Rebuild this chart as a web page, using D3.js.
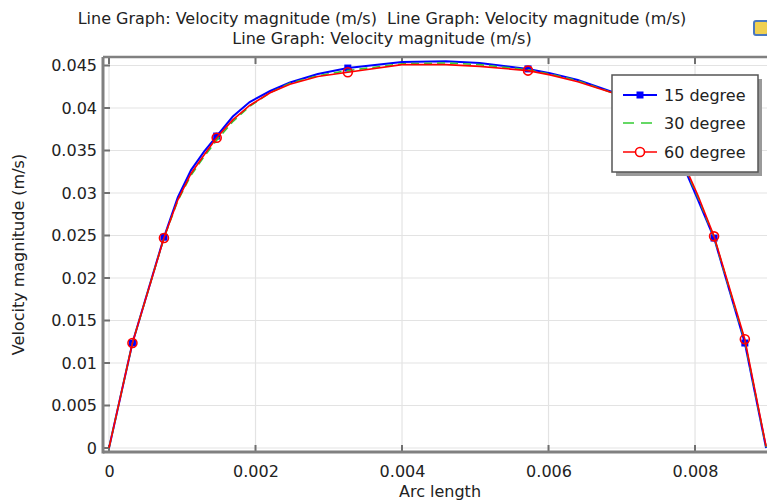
<!DOCTYPE html>
<html>
<head>
<meta charset="utf-8">
<script src="https://cdn.jsdelivr.net/npm/d3@7"></script>
<style>
  body { margin: 0; background: #fff; }
  svg { display: block; font-family: "DejaVu Sans", sans-serif; }
</style>
</head>
<body>
<svg id="chart" width="767" height="501"></svg>
<script>
// data
const arcLength = [0, 0.00032, 0.00075, 0.00094, 0.00112, 0.0013, 0.00147, 0.00169, 0.00192, 0.0022,
  0.00247, 0.00285, 0.00326, 0.004, 0.0046, 0.00506, 0.00572, 0.00602, 0.0064, 0.00687,
  0.0073, 0.0076, 0.00788, 0.00804, 0.00826, 0.00868, 0.00897];
const vel15 = [0, 0.01235, 0.0248, 0.0295, 0.0327, 0.0349, 0.0367, 0.039, 0.0407, 0.042,
  0.043, 0.044, 0.0447, 0.0454, 0.0455, 0.0453, 0.0446, 0.0441, 0.0433, 0.0419,
  0.0392, 0.0362, 0.0324, 0.0292, 0.0247, 0.01235, 0];
const vel30 = [0, 0.01235, 0.0247, 0.0291, 0.0321, 0.0343, 0.0362, 0.0384, 0.0402, 0.0418,
  0.0429, 0.0438, 0.0444, 0.0452, 0.0453, 0.0451, 0.0445, 0.044, 0.0432, 0.0418,
  0.0392, 0.0363, 0.0326, 0.0295, 0.0248, 0.0126, 0.0001];
const vel60 = [0, 0.01235, 0.0247, 0.0292, 0.0323, 0.0345, 0.0365, 0.0386, 0.0403, 0.0418,
  0.0428, 0.0437, 0.0442, 0.0451, 0.0451, 0.0449, 0.0444, 0.0439, 0.0431, 0.0418,
  0.0393, 0.0365, 0.0328, 0.0297, 0.0249, 0.0128, 0.0002];
const markerIdx = [1, 2, 6, 12, 16, 24, 25];
const seriesNames = ["15 degree", "30 degree", "60 degree"];
const xTicks = [0, 0.002, 0.004, 0.006, 0.008];
const yTicks = [0, 0.005, 0.01, 0.015, 0.02, 0.025, 0.03, 0.035, 0.04, 0.045];

const titleText = "Line Graph: Velocity magnitude (m/s)";

const svg = d3.select("#chart");

// plot frame (right side runs past the window)
const pLeft = 103, pTop = 57, pRight = 780, pBottom = 452;

const x = d3.scaleLinear().domain([-0.000082, 0.009160]).range([pLeft, pRight]);
const y = d3.scaleLinear().domain([-0.00047, 0.0460]).range([pBottom, pTop]);

// titles
svg.append("text").attr("x", 382).attr("y", 24).attr("text-anchor", "middle")
  .attr("font-size", 16).attr("fill", "#222").style("white-space", "pre")
  .text(titleText + "  " + titleText);
svg.append("text").attr("x", 382).attr("y", 44).attr("text-anchor", "middle")
  .attr("font-size", 16).attr("fill", "#222")
  .text(titleText);

// little toolbar icon top right
svg.append("rect").attr("x", 754).attr("y", 21).attr("width", 14).attr("height", 14)
  .attr("rx", 2).attr("fill", "#f0d050").attr("stroke", "#4a78c0").attr("stroke-width", 2);

// grid
const grid = svg.append("g");
grid.selectAll(".gx").data(xTicks).join("line")
  .attr("x1", d => x(d)).attr("x2", d => x(d))
  .attr("y1", pTop).attr("y2", pBottom)
  .attr("stroke", "#e3e3e3").attr("stroke-width", 1.2);
grid.selectAll(".gy").data(yTicks).join("line")
  .attr("x1", pLeft).attr("x2", pRight)
  .attr("y1", d => y(d)).attr("y2", d => y(d))
  .attr("stroke", "#e3e3e3").attr("stroke-width", 1.2);

// axes
const xAxis = d3.axisBottom(x).tickValues(xTicks).tickSize(0).tickPadding(14)
  .tickFormat(d => d === 0 ? "0" : d3.format(".3f")(d));
const gx = svg.append("g").attr("transform", `translate(0,${pBottom})`).call(xAxis);
gx.select(".domain").remove();
gx.selectAll("text").attr("font-size", 16).attr("fill", "#222")
  .attr("font-family", "DejaVu Sans");

const yAxis = d3.axisLeft(y).tickValues(yTicks).tickSize(0).tickPadding(6)
  .tickFormat(d => d === 0 ? "0" : d3.format(".3~f")(d));
const gy = svg.append("g").attr("transform", `translate(${pLeft},0)`).call(yAxis);
gy.select(".domain").remove();
gy.selectAll("text").attr("font-size", 16).attr("fill", "#222")
  .attr("font-family", "DejaVu Sans");

// inward tick marks
const ticks = svg.append("g").attr("stroke", "#707070").attr("stroke-width", 2);
ticks.selectAll(".tb").data(xTicks).join("line")
  .attr("x1", d => x(d)).attr("x2", d => x(d)).attr("y1", pBottom).attr("y2", pBottom - 7);
ticks.selectAll(".tt").data(xTicks).join("line")
  .attr("x1", d => x(d)).attr("x2", d => x(d)).attr("y1", pTop).attr("y2", pTop + 7);
ticks.selectAll(".tl").data(yTicks).join("line")
  .attr("x1", pLeft).attr("x2", pLeft + 7).attr("y1", d => y(d)).attr("y2", d => y(d));

// frame lines
svg.append("line").attr("x1", pLeft).attr("x2", pRight).attr("y1", pTop).attr("y2", pTop)
  .attr("stroke", "#808080").attr("stroke-width", 2.5);
svg.append("line").attr("x1", pLeft).attr("x2", pRight).attr("y1", pBottom).attr("y2", pBottom)
  .attr("stroke", "#808080").attr("stroke-width", 3);
svg.append("line").attr("x1", pLeft).attr("x2", pLeft).attr("y1", pTop).attr("y2", pBottom + 1.5)
  .attr("stroke", "#808080").attr("stroke-width", 3);

// axis titles
svg.append("text").attr("x", 440).attr("y", 497).attr("text-anchor", "middle")
  .attr("font-size", 16).attr("fill", "#222").text("Arc length");
svg.append("text").attr("transform", `translate(24,${(pTop + pBottom) / 2}) rotate(-90)`)
  .attr("text-anchor", "middle").attr("font-size", 16).attr("fill", "#222")
  .text("Velocity magnitude (m/s)");

// clip
svg.append("clipPath").attr("id", "plotClip").append("rect")
  .attr("x", pLeft).attr("y", pTop - 4).attr("width", pRight - pLeft).attr("height", pBottom - pTop + 2);

const plot = svg.append("g").attr("clip-path", "url(#plotClip)");
const line = d3.line().x(d => x(d[0])).y(d => y(d[1]));

const pts15 = arcLength.map((a, i) => [a, vel15[i]]);
const pts30 = arcLength.map((a, i) => [a, vel30[i]]);
const pts60 = arcLength.map((a, i) => [a, vel60[i]]);

plot.append("path").attr("d", line(pts15)).attr("fill", "none")
  .attr("stroke", "#0000ff").attr("stroke-width", 2);
plot.selectAll(".m15").data(markerIdx.map(i => pts15[i])).join("rect")
  .attr("x", d => x(d[0]) - 3.5).attr("y", d => y(d[1]) - 3.5)
  .attr("width", 7).attr("height", 7).attr("fill", "#0000ff");

plot.append("path").attr("d", line(pts30)).attr("fill", "none")
  .attr("stroke", "#33cc33").attr("stroke-width", 1.6).attr("stroke-dasharray", "8,5");

plot.append("path").attr("d", line(pts60)).attr("fill", "none")
  .attr("stroke", "#ff0000").attr("stroke-width", 1.6);
plot.selectAll(".m60").data(markerIdx.map(i => pts60[i])).join("circle")
  .attr("cx", d => x(d[0])).attr("cy", d => y(d[1])).attr("r", 4.5)
  .attr("fill", "none").attr("stroke", "#ff0000").attr("stroke-width", 1.6);

// legend
const lg = svg.append("g");
lg.append("rect").attr("x", 616).attr("y", 79).attr("width", 146).attr("height", 97)
  .attr("fill", "#9a9a9a");
lg.append("rect").attr("x", 612).attr("y", 75).attr("width", 146).attr("height", 97)
  .attr("fill", "#fff").attr("stroke", "#555").attr("stroke-width", 1.5);
const rowY = [95, 123, 152];
const colors = ["#0000ff", "#33cc33", "#ff0000"];
seriesNames.forEach((name, i) => {
  const l = lg.append("line").attr("x1", 623).attr("x2", 657).attr("y1", rowY[i]).attr("y2", rowY[i])
    .attr("stroke", colors[i]).attr("stroke-width", i === 0 ? 2 : 1.6);
  if (i === 1) l.attr("stroke-dasharray", "11,7");
  if (i === 0) lg.append("rect").attr("x", 636.5).attr("y", rowY[i] - 3.5).attr("width", 7).attr("height", 7)
    .attr("fill", colors[i]);
  if (i === 2) lg.append("circle").attr("cx", 640).attr("cy", rowY[i]).attr("r", 4.5)
    .attr("fill", "#fff").attr("stroke", colors[i]).attr("stroke-width", 1.6);
  lg.append("text").attr("x", 664).attr("y", rowY[i] + 6).attr("font-size", 16).attr("fill", "#222")
    .text(name);
});
</script>
</body>
</html>
